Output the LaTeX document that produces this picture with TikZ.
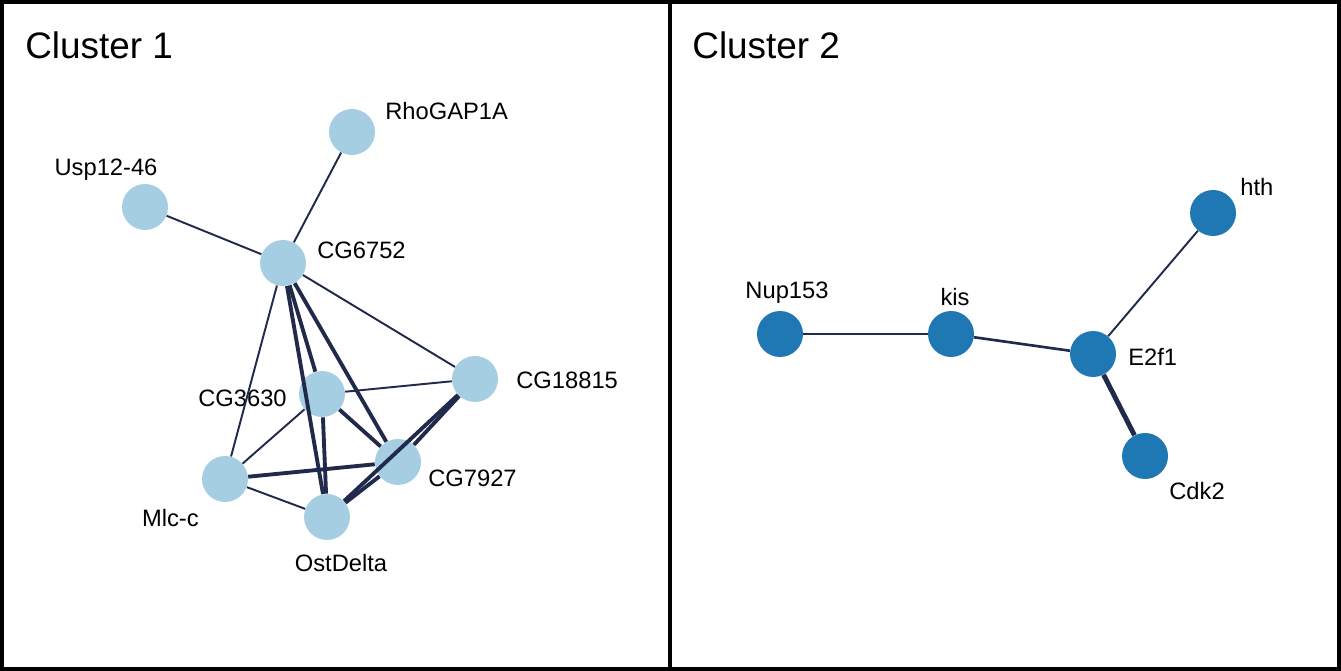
\documentclass[tikz,border=0pt]{standalone}
\usepackage{fontspec}
\setmainfont{Liberation Sans}
\usepackage{tikz}

\definecolor{lightgene}{HTML}{A6CEE3}
\definecolor{darkgene}{HTML}{1F78B4}
\definecolor{edgecol}{HTML}{222A4C}

\begin{document}
\begin{tikzpicture}[x=0.02cm, y=-0.02cm,
    gene/.style = {circle, fill=lightgene, minimum size=0.92cm, inner sep=0pt},
    hub/.style = {circle, fill=darkgene, minimum size=0.92cm, inner sep=0pt},
    lbl/.style = {font=\fontsize{13.5}{16}\selectfont, inner sep=0pt},
    title/.style = {font=\fontsize{21}{25}\selectfont, inner sep=0pt, anchor=west},
    frame/.style = {draw, line width=2.3pt},
    link/.style = {draw=edgecol, line width=1.1pt},
    strong/.style = {draw=edgecol, line width=2.2pt}]
	\useasboundingbox (0,0) rectangle (1341,671);
	% panels
	\draw[frame] (2,2) rectangle (1339,669);
	\draw[frame] (670,2) -- (670,669);
	\node[title] (t1) at (25,45) {Cluster 1};
	\node[title] (t2) at (692,45) {Cluster 2};
	% cluster 1
	\node[gene] (rho) at (352,132) {};
	\node[gene] (usp) at (145,207) {};
	\node[gene] (cg6752) at (283,263) {};
	\node[gene] (cg18815) at (475,379) {};
	\node[gene] (cg3630) at (322,394) {};
	\node[gene] (cg7927) at (398,462) {};
	\node[gene] (mlc) at (225,479) {};
	\node[gene] (ost) at (327,517) {};
	\node[lbl, anchor=west] (l-rho) at (385,111) {RhoGAP1A};
	\node[lbl] (l-usp) at (106,170) {Usp12-46};
	\node[lbl, anchor=west] (l-cg6752) at (317,250) {CG6752};
	\node[lbl, anchor=west] (l-cg18815) at (516,380) {CG18815};
	\node[lbl, anchor=east] (l-cg3630) at (287,398) {CG3630};
	\node[lbl, anchor=west] (l-cg7927) at (428,478) {CG7927};
	\node[lbl, anchor=east] (l-mlc) at (199,518) {Mlc-c};
	\node[lbl] (l-ost) at (341,563) {OstDelta};
	\draw[link] (rho) -- (cg6752);
	\draw[link] (usp) -- (cg6752);
	\draw[link] (cg6752) -- (cg18815);
	\draw[link] (cg6752) -- (mlc);
	\draw[strong] (cg6752) -- (cg3630);
	\draw[strong] (cg6752) -- (ost);
	\draw[strong] (cg6752) -- (cg7927);
	\draw[link] (cg3630) -- (cg18815);
	\draw[link] (cg3630) -- (mlc);
	\draw[strong] (cg3630) -- (cg7927);
	\draw[strong] (cg3630) -- (ost);
	\draw[strong] (mlc) -- (cg7927);
	\draw[link] (mlc) -- (ost);
	\draw[strong] (cg18815) -- (cg7927);
	\draw[strong] (cg18815) -- (ost);
	\draw[strong] (cg7927) -- (ost);
	% cluster 2
	\node[hub] (hth) at (1213,213) {};
	\node[hub] (nup) at (780,334) {};
	\node[hub] (kis) at (951,334) {};
	\node[hub] (e2f1) at (1093,354) {};
	\node[hub] (cdk2) at (1145,456) {};
	\node[lbl, anchor=west] (l-hth) at (1240,187) {hth};
	\node[lbl] (l-nup) at (787,293) {Nup153};
	\node[lbl] (l-kis) at (955,297) {kis};
	\node[lbl, anchor=west] (l-e2f1) at (1128,357) {E2f1};
	\node[lbl] (l-cdk2) at (1197,491) {Cdk2};
	\draw[link] (nup) -- (kis);
	\draw[link, line width=1.5pt] (kis) -- (e2f1);
	\draw[link] (e2f1) -- (hth);
	\draw[strong, line width=2.8pt] (e2f1) -- (cdk2);
\end{tikzpicture}
\end{document}
